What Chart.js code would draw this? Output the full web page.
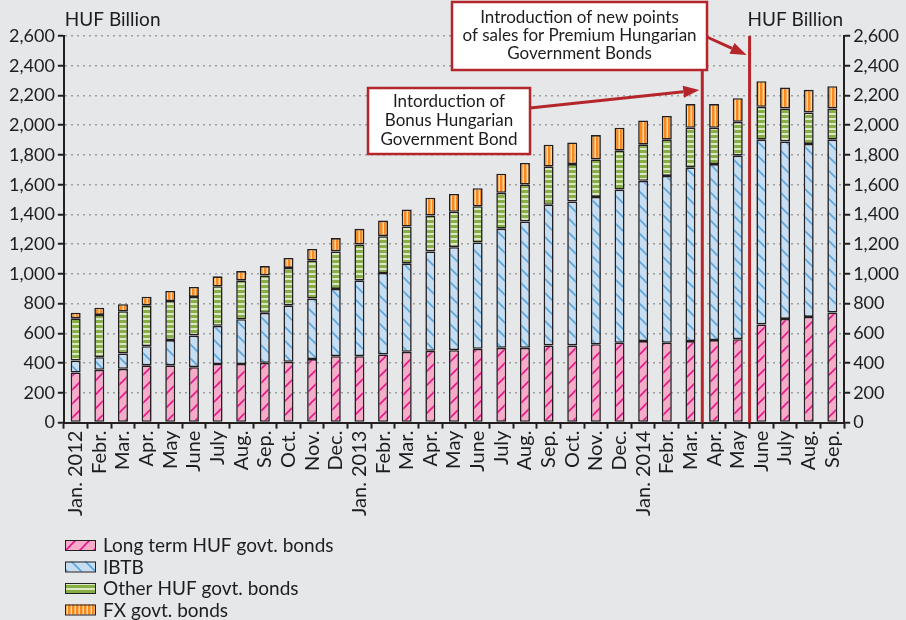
<!DOCTYPE html>
<html>
<head>
<meta charset="utf-8">
<script src="https://cdn.jsdelivr.net/npm/chart.js@4.4.0/dist/chart.umd.min.js"></script>
<style>
    html, body { margin: 0; padding: 0; background: #e6e7e9; }
    #wrap { width: 906px; height: 620px; position: relative; }
</style>
</head>
<body>
<div id="wrap"><canvas id="bondChart"></canvas></div>
<script>
// ========================================
// DATA
// ========================================

const months = [
    'Jan. 2012', 'Febr.', 'Mar.', 'Apr.', 'May', 'June', 'July', 'Aug.', 'Sep.', 'Oct.', 'Nov.', 'Dec.',
    'Jan. 2013', 'Febr.', 'Mar.', 'Apr.', 'May', 'June', 'July', 'Aug.', 'Sep.', 'Oct.', 'Nov.', 'Dec.',
    'Jan. 2014', 'Febr.', 'Mar.', 'Apr.', 'May', 'June', 'July', 'Aug.', 'Sep.'
];

const longTermBonds = [337, 355, 362, 385, 385, 373, 394, 394, 402, 409, 427, 447,
    447, 458, 476, 483, 487, 496, 503, 503, 519, 519, 527, 537,
    548, 537, 548, 555, 561, 660, 697, 711, 740];

const ibtb = [80, 85, 103, 129, 170, 213, 257, 301, 336, 380, 407, 452,
    510, 548, 593, 668, 693, 716, 801, 850, 946, 968, 991, 1030,
    1078, 1122, 1169, 1184, 1234, 1243, 1194, 1163, 1163];

const otherHufBonds = [284, 284, 284, 275, 263, 259, 266, 262, 252, 251, 255, 252,
    241, 248, 250, 242, 238, 243, 241, 248, 256, 252, 252, 262,
    243, 244, 266, 244, 228, 221, 222, 212, 210];

const fxBonds = [38, 49, 47, 58, 67, 67, 67, 62, 63, 67, 79, 90,
    105, 105, 114, 120, 120, 121, 129, 145, 148, 145, 164, 154,
    163, 159, 159, 159, 159, 172, 140, 152, 149];

const seriesNames = ['Long term HUF govt. bonds', 'IBTB', 'Other HUF govt. bonds', 'FX govt. bonds'];
const yTicks = [0, 200, 400, 600, 800, 1000, 1200, 1400, 1600, 1800, 2000, 2200, 2400, 2600];

// index of the month just after each event line
const eventAfter = [27, 29];

// ========================================
// PATTERNS
// ========================================

function makePattern(w, h, draw) {
    const c = document.createElement('canvas');
    c.width = w;
    c.height = h;
    const g = c.getContext('2d');
    draw(g, w, h);
    return g.createPattern(c, 'repeat');
}

function diagonal(bg, fg, forward) {
    return makePattern(14, 14, (g, w, h) => {
        g.fillStyle = bg;
        g.fillRect(0, 0, w, h);
        g.strokeStyle = fg;
        g.lineWidth = 1.6;
        for (let k = -1; k <= 1; k++) {
            g.beginPath();
            if (forward) {
                g.moveTo(k * w - 1, h + 1);
                g.lineTo(k * w + w + 1, -1);
            } else {
                g.moveTo(k * w - 1, -1);
                g.lineTo(k * w + w + 1, h + 1);
            }
            g.stroke();
        }
    });
}

const pinkPattern = diagonal('#f6abc9', '#e2188c', true);
const bluePattern = diagonal('#c7ddf1', '#5ba6dd', false);

const greenPattern = makePattern(5, 5, (g, w, h) => {
    g.fillStyle = '#dce9c6';
    g.fillRect(0, 0, w, h);
    g.fillStyle = '#87ae45';
    g.fillRect(0, 0, w, 3);
});

const orangePattern = makePattern(4, 4, (g, w, h) => {
    g.fillStyle = '#f68a1f';
    g.fillRect(0, 0, w, h);
    g.fillStyle = '#fdd6a2';
    g.fillRect(2.5, 0, 1.5, h);
});

const patterns = [pinkPattern, bluePattern, greenPattern, orangePattern];

// ========================================
// PLUGINS
// ========================================

const FONT = 'Lato, "Open Sans", sans-serif';
const TEXT = '#1d1d1f';
const RED = '#b5262b';

const unitLabels = {
    id: 'unitLabels',
    afterDraw(chart) {
        const { ctx, chartArea } = chart;
        ctx.save();
        ctx.fillStyle = TEXT;
        ctx.font = '19px ' + FONT;
        ctx.textBaseline = 'middle';
        ctx.textAlign = 'left';
        ctx.fillText('HUF Billion', chartArea.left + 1, 20);
        ctx.textAlign = 'right';
        ctx.fillText('HUF Billion', chartArea.right - 1, 20);
        ctx.restore();
    }
};

function arrow(ctx, x1, y1, x2, y2) {
    const ang = Math.atan2(y2 - y1, x2 - x1);
    const len = 16, half = 6;
    const bx = x2 - len * Math.cos(ang), by = y2 - len * Math.sin(ang);
    ctx.beginPath();
    ctx.moveTo(x1, y1);
    ctx.lineTo(bx, by);
    ctx.stroke();
    ctx.beginPath();
    ctx.moveTo(x2, y2);
    ctx.lineTo(bx + half * Math.sin(ang), by - half * Math.cos(ang));
    ctx.lineTo(bx - half * Math.sin(ang), by + half * Math.cos(ang));
    ctx.closePath();
    ctx.fill();
}

function textBox(ctx, x, y, w, h, lines, lineGap) {
    ctx.fillStyle = '#ffffff';
    ctx.fillRect(x, y, w, h);
    ctx.lineWidth = 2.5;
    ctx.strokeStyle = RED;
    ctx.strokeRect(x, y, w, h);
    ctx.fillStyle = TEXT;
    ctx.font = '17px ' + FONT;
    ctx.textAlign = 'center';
    ctx.textBaseline = 'middle';
    const cx = x + w / 2;
    const top = y + h / 2 - (lines.length - 1) * lineGap / 2;
    lines.forEach((t, i) => ctx.fillText(t, cx, top + i * lineGap));
}

const events = {
    id: 'events',
    afterDatasetsDraw(chart) {
        const { ctx, scales: { x, y } } = chart;
        const xs = eventAfter.map(i => (x.getPixelForValue(i - 1) + x.getPixelForValue(i)) / 2);
        ctx.save();
        ctx.strokeStyle = RED;
        ctx.fillStyle = RED;
        ctx.lineWidth = 3;
        ctx.beginPath();
        ctx.moveTo(xs[0], 70);
        ctx.lineTo(xs[0], y.bottom);
        ctx.moveTo(xs[1], y.top);
        ctx.lineTo(xs[1], y.bottom);
        ctx.stroke();

        ctx.lineWidth = 3;
        arrow(ctx, 530, 108, xs[0] - 3, 90);
        arrow(ctx, 707, 37, xs[1] - 3, 55);

        textBox(ctx, 368, 88, 162, 66,
            ['Intorduction of', 'Bonus Hungarian', 'Government Bond'], 19);
        textBox(ctx, 452, 2, 255, 68,
            ['Introduction of new points', 'of sales for Premium Hungarian', 'Government Bonds'], 18);
        ctx.restore();
    }
};

const bottomLegend = {
    id: 'bottomLegend',
    afterDraw(chart) {
        const { ctx } = chart;
        ctx.save();
        ctx.font = '19px ' + FONT;
        ctx.textBaseline = 'middle';
        ctx.textAlign = 'left';
        seriesNames.forEach((name, i) => {
            const cy = 545 + i * 21.5;
            ctx.fillStyle = patterns[i];
            ctx.fillRect(65, cy - 5, 30, 10);
            ctx.lineWidth = 1;
            ctx.strokeStyle = '#231f20';
            ctx.strokeRect(65.5, cy - 4.5, 30, 10);
            ctx.fillStyle = TEXT;
            ctx.fillText(name, 103, cy + 1);
        });
        ctx.restore();
    }
};

// ========================================
// CHART
// ========================================

function initBondChart() {
    const canvas = document.getElementById('bondChart');
    const ctx = canvas.getContext('2d');
    const seriesData = [longTermBonds, ibtb, otherHufBonds, fxBonds];

    const yAxis = (position, onChart) => ({
        type: 'linear',
        position: position,
        stacked: true,
        min: 0,
        max: 2600,
        afterBuildTicks: axis => { axis.ticks = yTicks.map(v => ({ value: v })); },
        grid: {
            drawOnChartArea: onChart,
            color: '#9c9d9f',
            lineWidth: 1.5,
            tickColor: '#231f20',
            tickLength: 6,
            tickWidth: 2
        },
        border: { display: true, color: '#231f20', width: 2, dash: [2, 4] },
        ticks: {
            color: TEXT,
            font: { family: FONT, size: 18 },
            padding: 3,
            callback: v => v.toLocaleString('en-US')
        }
    });

    new Chart(ctx, {
        type: 'bar',
        data: {
            labels: months,
            datasets: seriesData.map((d, i) => ({
                label: seriesNames[i],
                data: d,
                backgroundColor: patterns[i],
                borderColor: '#231f20',
                borderWidth: 1.6,
                borderSkipped: false,
                barPercentage: 0.47,
                categoryPercentage: 0.9
            }))
        },
        options: {
            responsive: true,
            maintainAspectRatio: false,
            animation: false,
            layout: { padding: { left: 6, right: 4, top: 36, bottom: 102 } },
            plugins: {
                legend: { display: false },
                tooltip: { enabled: false }
            },
            scales: {
                x: {
                    stacked: true,
                    grid: {
                        drawOnChartArea: false,
                        tickColor: '#231f20',
                        tickLength: 6,
                        tickWidth: 2
                    },
                    border: { display: true, color: '#231f20', width: 2 },
                    ticks: {
                        color: TEXT,
                        font: { family: FONT, size: 20 },
                        autoSkip: false,
                        minRotation: 90,
                        maxRotation: 90,
                        padding: 2
                    }
                },
                y: yAxis('left', true),
                y2: yAxis('right', false)
            }
        },
        plugins: [unitLabels, events, bottomLegend]
    });
}

document.addEventListener('DOMContentLoaded', initBondChart);
</script>
</body>
</html>
